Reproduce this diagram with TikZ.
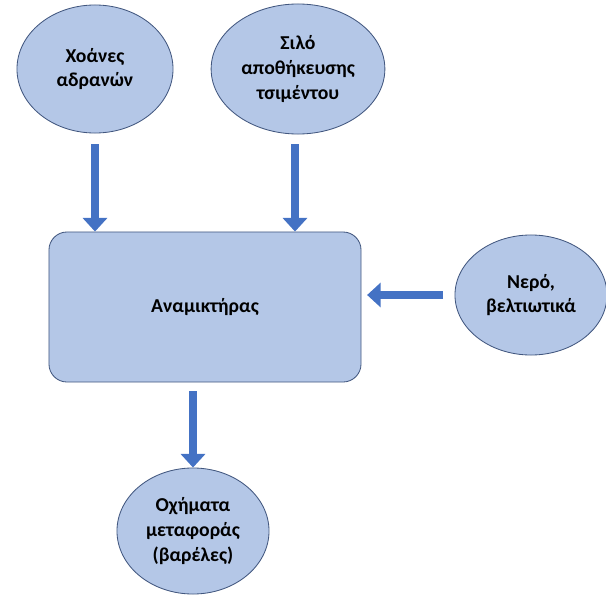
\documentclass[tikz,border=0pt]{standalone}
\usepackage{fontspec}
\setmainfont{Carlito}
\usetikzlibrary{shapes.geometric, positioning, arrows.meta}
\definecolor{boxfill}{HTML}{B4C7E7}
\definecolor{boxline}{HTML}{42577F}
\definecolor{flowblue}{HTML}{4472C4}
\tikzset{
  source/.style={ellipse, draw=boxline, fill=boxfill, line width=0.6pt, text centered, align=center, font=\fontsize{14}{17.5}\selectfont\bfseries},
  mixer/.style={rectangle, rounded corners=0.45cm, draw=boxline, fill=boxfill, line width=0.6pt, text centered, font=\fontsize{14}{17.5}\selectfont\bfseries},
  flow/.style={draw=flowblue, line width=5pt, -{Triangle[width=0.6cm,length=0.34cm]}}
}
\begin{document}
\begin{tikzpicture}[x=0.025cm, y=0.025cm]
    \useasboundingbox (0,0) rectangle (606,595);
    \node (mix) [mixer, minimum width=7.8cm, minimum height=3.75cm] at (205,288) {Αναμικτήρας};
    \node (hoppers) [source, minimum width=3.9cm, minimum height=3.2cm] at (95,526) {Χοάνες\\αδρανών};
    \node (silo) [source, minimum width=3.8cm, minimum height=3.25cm] at (298,526) {Σιλό\\αποθήκευσης\\τσιμέντου};
    \node (water) [source, minimum width=3.8cm, minimum height=3.0cm] at (531,300) {Νερό,\\βελτιωτικά};
    \node (trucks) [source, minimum width=3.8cm, minimum height=3.15cm] at (193,64) {Οχήματα\\μεταφοράς\\(βαρέλες)};

    \coordinate (hopout) at (95,451);
    \coordinate (silout) at (295,451);
    \coordinate (watout) at (443,300);
    \coordinate (mixout) at (193,204);

    \draw [flow] (hopout) -- (hopout |- mix.north);
    \draw [flow] (silout) -- (silout |- mix.north);
    \draw [flow] (watout) -- ([xshift=4pt]mix.east |- watout);
    \draw [flow] (mixout) -- (mixout |- trucks.north);
\end{tikzpicture}
\end{document}
